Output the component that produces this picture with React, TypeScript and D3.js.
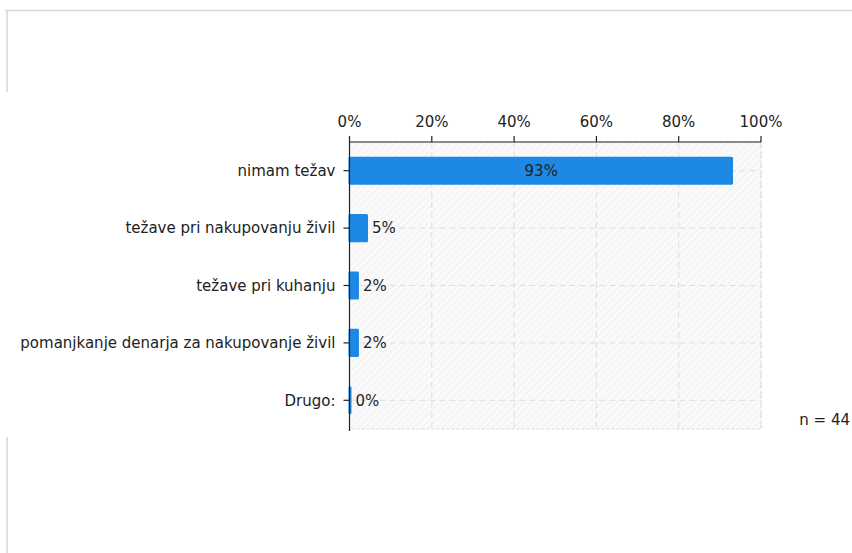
import React from "react";
import * as d3 from "d3";

const categories = [
  "nimam težav",
  "težave pri nakupovanju živil",
  "težave pri kuhanju",
  "pomanjkanje denarja za nakupovanje živil",
  "Drugo:",
];
const values = [93.2, 4.5, 2.3, 2.3, 0];
const valueLabels = ["93%", "5%", "2%", "2%", "0%"];
const xTicks = [0, 20, 40, 60, 80, 100];
const nLabel = "n = 44";

const W = 852;
const H = 553;
const M = { left: 349.5, right: 761, top: 142, bottom: 429 };
const FONT = "'DejaVu Sans', Verdana, sans-serif";
const FS = 15;

export default function App() {
  const x = d3.scaleLinear().domain([0, 100]).range([M.left, M.right]);
  const y = d3
    .scaleBand<string>()
    .domain(categories)
    .range([M.top, M.bottom])
    .paddingInner(0.51)
    .paddingOuter(0.255);
  const bw = y.bandwidth();
  const cy = (c: string) => (y(c) as number) + bw / 2;

  return (
    <svg
      width={W}
      height={H}
      style={{ position: "absolute", left: 0, top: 0, background: "#fff" }}
      fontFamily={FONT}
    >
      <defs>
        <pattern
          id="hatch"
          width="5"
          height="5"
          patternUnits="userSpaceOnUse"
          patternTransform="rotate(45)"
        >
          <rect width="5" height="5" fill="#fafafa" />
          <line x1="0" y1="0" x2="0" y2="5" stroke="#ececec" strokeWidth="1.2" />
        </pattern>
      </defs>
      {/* outer frame fragments */}
      <line x1={5} y1={10.5} x2={W} y2={10.5} stroke="#d6d6d6" strokeWidth={1.5} />
      <line x1={7} y1={10} x2={7} y2={92} stroke="#d6d6d6" strokeWidth={1.5} />
      <line x1={7} y1={437} x2={7} y2={H} stroke="#d6d6d6" strokeWidth={1.5} />

      {/* plot background */}
      <rect
        x={M.left}
        y={M.top}
        width={M.right - M.left}
        height={M.bottom - M.top}
        fill="url(#hatch)"
        stroke="#dcdcdc"
        strokeDasharray="3,2"
      />
      {/* vertical grid */}
      {xTicks.slice(1).map((t) => (
        <line
          key={"vg" + t}
          x1={x(t)}
          x2={x(t)}
          y1={M.top}
          y2={M.bottom}
          stroke="#dedede"
          strokeDasharray="6,4"
        />
      ))}
      {/* horizontal grid */}
      {categories.map((c) => (
        <line
          key={"hg" + c}
          x1={M.left}
          x2={M.right}
          y1={cy(c)}
          y2={cy(c)}
          stroke="#dedede"
          strokeDasharray="6,4"
        />
      ))}
      {/* bars */}
      {categories.map((c, i) => {
        const w = Math.max(2, x(values[i]) - x(0));
        return (
          <rect
            key={"b" + c}
            x={x(0) - 1}
            y={y(c)}
            width={w + 1}
            height={bw}
            rx={1.5}
            fill="#1e88e5"
          />
        );
      })}
      {/* value labels */}
      {categories.map((c, i) => {
        const inside = values[i] > 50;
        const xe = x(0) + Math.max(2, x(values[i]) - x(0));
        return (
          <text
            key={"v" + c}
            x={inside ? (x(0) + x(values[i])) / 2 : xe + 4}
            y={cy(c)}
            dy="0.35em"
            textAnchor={inside ? "middle" : "start"}
            fontSize={FS}
            fill="#222"
          >
            {valueLabels[i]}
          </text>
        );
      })}
      {/* top axis */}
      <line x1={M.left} x2={M.right} y1={M.top} y2={M.top} stroke="#222" strokeWidth={1.2} />
      {xTicks.map((t) => (
        <g key={"xt" + t}>
          <line x1={x(t)} x2={x(t)} y1={M.top} y2={M.top - 6} stroke="#222" strokeWidth={1.2} />
          <text x={x(t)} y={M.top - 15} textAnchor="middle" fontSize={FS} fill="#222">
            {t + "%"}
          </text>
        </g>
      ))}
      {/* left axis */}
      <line x1={M.left} x2={M.left} y1={M.top} y2={M.bottom + 2} stroke="#222" strokeWidth={1.2} />
      {categories.map((c) => (
        <g key={"yt" + c}>
          <line x1={M.left - 6} x2={M.left} y1={cy(c)} y2={cy(c)} stroke="#222" strokeWidth={1.2} />
          <text
            x={M.left - 14}
            y={cy(c)}
            dy="0.35em"
            textAnchor="end"
            fontSize={FS}
            fill="#222"
          >
            {c}
          </text>
        </g>
      ))}
      <text x={W - 2} y={420} dy="0.35em" textAnchor="end" fontSize={FS} fill="#222">
        {nLabel}
      </text>
    </svg>
  );
}
